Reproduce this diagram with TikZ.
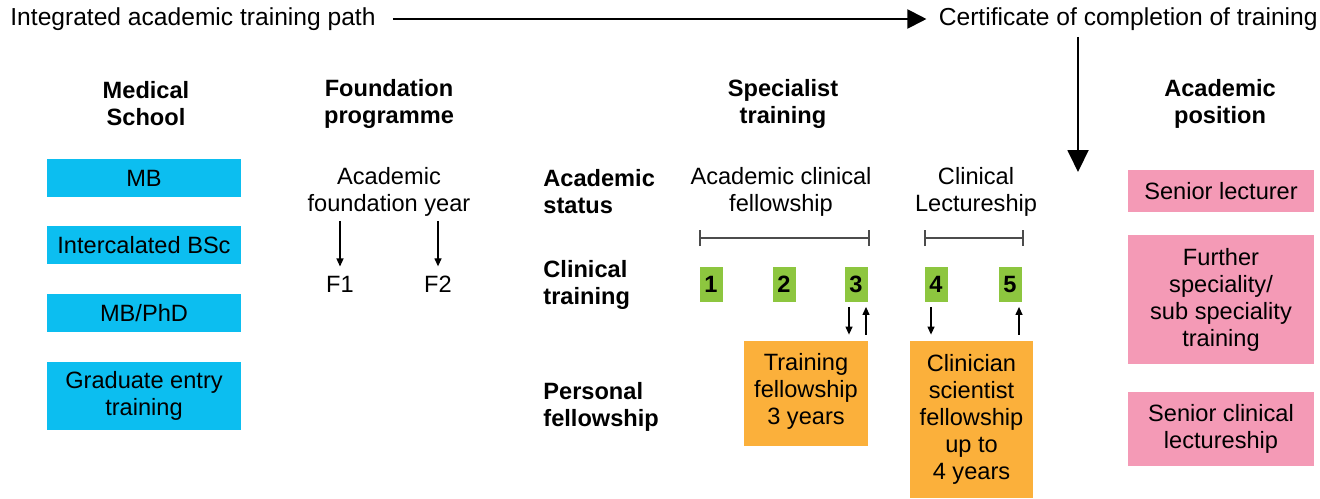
\documentclass[tikz,border=0pt]{standalone}
\usepackage{fontspec}
\setmainfont{Liberation Sans}
\usetikzlibrary{arrows.meta}
\definecolor{skyblue}{RGB}{12,190,240}
\definecolor{leafgreen}{RGB}{141,198,63}
\definecolor{amber}{RGB}{251,176,59}
\definecolor{rosepink}{RGB}{244,154,182}

\begin{document}
\begin{tikzpicture}[x=0.5pt, y=-0.5pt, >={Triangle[length=4pt,width=3.5pt]},
                every node/.style={font=\fontsize{11.8}{13.5}\selectfont, align=center, inner sep=0pt},
                toptext/.style={font=\fontsize{12.3}{13.5}\selectfont},
                colhead/.style={font=\fontsize{11.8}{13.5}\selectfont\bfseries},
                rowlabel/.style={font=\fontsize{11.8}{13.5}\selectfont\bfseries, align=left, anchor=west},
                school/.style={fill=skyblue, minimum width=97pt, minimum height=19pt},
                stage/.style={fill=leafgreen, minimum width=11.5pt, minimum height=17.5pt,
                              font=\fontsize{11.8}{13.5}\selectfont\bfseries},
                fellow/.style={fill=amber, minimum width=62pt},
                postbox/.style={fill=rosepink, minimum width=93pt},
                bracket/.style={draw=black!70, line width=0.8pt, {Bar[width=8pt]}-{Bar[width=8pt]}},
                thin arrow/.style={->, line width=0.6pt}]

    \useasboundingbox (0,0) rectangle (1320,498);

    % top line
    \node[toptext, anchor=west] (path) at (10,19) {Integrated academic training path};
    \node[toptext, anchor=east] (cert) at (1318,19) {Certificate of completion of training};
    \coordinate (drop) at (1078,172);
    \draw[line width=1pt, -{Triangle[length=9.5pt,width=9.5pt]}, shorten <=8.5pt, shorten >=6pt]
        (path.east) -- (cert.west);
    \draw[line width=1pt, -{Triangle[length=11pt,width=10.5pt]}, shorten <=3pt]
        (cert.south -| drop) -- (drop);

    % column heads
    \node[colhead] (med)   at (146,104)  {Medical\\School};
    \node[colhead] (found) at (389,104)  {Foundation\\programme};
    \node[colhead] (spec)  at (783,104)  {Specialist\\training};
    \node[colhead] (acad)  at (1220,104) {Academic\\position};

    % medical school
    \node[school] (mb)   at (144,178) {MB};
    \node[school] (bsc)  at (144,245) {Intercalated BSc};
    \node[school] (phd)  at (144,313) {MB/PhD};
    \node[school, minimum height=34pt] (grad) at (144,396) {Graduate entry\\training};

    % foundation
    \node (afy) at (389,192) {Academic\\foundation year};
    \node (f1) at (340,284) {F1};
    \node (f2) at (438,284) {F2};
    \draw[thin arrow, shorten <=2pt, shorten >=4.5pt] (afy.south -| f1.north) -- (f1.north);
    \draw[thin arrow, shorten <=2pt, shorten >=4.5pt] (afy.south -| f2.north) -- (f2.north);

    % specialist rows
    \node[rowlabel] (status)   at (543,192) {Academic\\status};
    \node[rowlabel] (clinic)   at (543,285) {Clinical\\training};
    \node[rowlabel] (personal) at (543,407) {Personal\\fellowship};

    \node (acf) at (781,192) {Academic clinical\\fellowship};
    \node (cl)  at (976,192) {Clinical\\Lectureship};

    \foreach \n/\x in {1/711, 2/784, 3/856, 4/936, 5/1010}
        \node[stage] (g\n) at (\x,284) {\n};

    \coordinate (barline) at (0,238);
    \draw[bracket] (g1.west |- barline) -- ([xshift=1pt]g3.east |- barline);
    \draw[bracket] (g4.west |- barline) -- ([xshift=1pt]g5.east |- barline);

    \node[fellow, minimum height=52.5pt] (tf) at (806,393.5) {Training\\fellowship\\3 years\rule[-5pt]{0pt}{0pt}};
    \node[fellow, minimum width=61.5pt, minimum height=78.5pt] (csf) at (971.5,419.5)
        {Clinician\\scientist\\fellowship\\up to\\4 years};

    \draw[thin arrow, shorten <=2.5pt, shorten >=3pt]
        ([xshift=-3.5pt]g3.south) -- ([xshift=-3.5pt]g3.south |- tf.north);
    \draw[thin arrow, shorten <=3pt, shorten >=2.5pt]
        ([xshift=5pt]g3.south |- tf.north) -- ([xshift=5pt]g3.south);
    \draw[thin arrow, shorten <=2.5pt, shorten >=3pt]
        ([xshift=-2.5pt]g4.south) -- ([xshift=-2.5pt]g4.south |- csf.north);
    \draw[thin arrow, shorten <=3pt, shorten >=2.5pt]
        ([xshift=4.5pt]g5.south |- csf.north) -- ([xshift=4.5pt]g5.south);

    % academic position
    \node[postbox, minimum height=21pt]   (sl)  at (1221,191)   {Senior lecturer};
    \node[postbox, minimum height=64.5pt] (fss) at (1221,299.5) {Further\\speciality/\\sub speciality\\training};
    \node[postbox, minimum height=37pt]   (scl) at (1221,429)   {Senior clinical\\lectureship};

\end{tikzpicture}
\end{document}
